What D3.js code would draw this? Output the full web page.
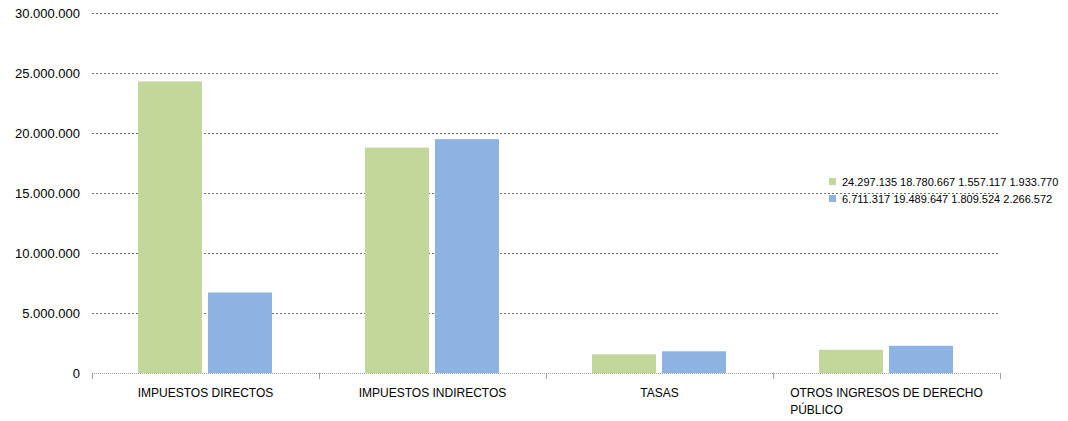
<!DOCTYPE html>
<html><head><meta charset="utf-8">
<script src="https://cdn.jsdelivr.net/npm/d3@7"></script>
<style>body{margin:0;background:#fff}svg{display:block;font-family:"Liberation Sans",Arial,sans-serif}</style>
</head><body><svg id="c" width="1068" height="421"></svg>
<script>
const categories = ["IMPUESTOS DIRECTOS","IMPUESTOS INDIRECTOS","TASAS","OTROS INGRESOS DE DERECHO PÚBLICO"];
const series1 = [24297135, 18780667, 1557117, 1933770];
const series2 = [6711317, 19489647, 1809524, 2266572];
const yTicks = [0, 5000000, 10000000, 15000000, 20000000, 25000000, 30000000];
const seriesNames = ["24.297.135 18.780.667 1.557.117 1.933.770","6.711.317 19.489.647 1.809.524 2.266.572"];
const colors = ["#C4D79B","#8DB3E2"];

(function(){
const svg = d3.select("#c");
const mLeft = 92, mRight = 1000, mTop = 13, mBottom = 373;
const fmt = v => v === 0 ? "0" : d3.format(",")(v).replace(/,/g, ".");
const y = d3.scaleLinear().domain([0, 30000000]).range([mBottom, mTop]);
const x = d3.scaleBand().domain(categories).range([mLeft, mRight]).paddingInner(0).paddingOuter(0);
const xs = d3.scaleBand().domain([0,1]).range([46, x.bandwidth()-47]).paddingInner(0.085);

svg.append("g").selectAll("line").data(yTicks.filter(d=>d>0)).join("line")
  .attr("x1", mLeft).attr("x2", mRight).attr("y1", d=>y(d)+0.5).attr("y2", d=>y(d)+0.5)
  .attr("stroke", "#6e6e6e").attr("stroke-dasharray", "2,2").attr("stroke-width", 1);

svg.append("g").selectAll("text").data(yTicks).join("text")
  .attr("x", 80).attr("y", d=>y(d)+4.5).attr("text-anchor","end")
  .attr("font-size", 13).attr("fill","#000").text(fmt);

const data = [series1, series2];
data.forEach((s, i) => {
  svg.append("g").selectAll("rect").data(s).join("rect")
    .attr("x", (d, j) => x(categories[j]) + xs(i))
    .attr("width", xs.bandwidth())
    .attr("y", d => y(d))
    .attr("height", d => y(0) - y(d))
    .attr("fill", colors[i]);
});

svg.append("line").attr("x1", mLeft).attr("x2", mRight).attr("y1", mBottom+0.5).attr("y2", mBottom+0.5)
  .attr("stroke", "#a0a0a0").attr("stroke-dasharray","1,1");
const bounds = categories.map(c => x(c)).concat([mRight]);
svg.append("g").selectAll("line").data(bounds).join("line")
  .attr("x1", d=>Math.round(d)+0.5).attr("x2", d=>Math.round(d)+0.5)
  .attr("y1", mBottom).attr("y2", mBottom+6).attr("stroke","#a0a0a0");

const lines = {"OTROS INGRESOS DE DERECHO PÚBLICO": ["OTROS INGRESOS DE DERECHO","PÚBLICO"]};
categories.forEach(c => {
  const cx = x(c) + x.bandwidth()/2;
  const ls = lines[c] || [c];
  const t = svg.append("text").attr("font-size", 12).attr("fill","#000");
  const first = t.append("tspan").attr("x", cx).attr("y", 397).attr("text-anchor","middle").text(ls[0]);
  if (ls.length > 1) {
    const w = first.node().getComputedTextLength();
    const x0 = cx - w/2;
    first.attr("text-anchor","start").attr("x", x0);
    t.append("tspan").attr("x", x0).attr("y", 414).text(ls[1]);
  }
});

seriesNames.forEach((n, i) => {
  const ly = 178 + i*17;
  svg.append("rect").attr("x", 829).attr("y", ly).attr("width", 7).attr("height", 7).attr("fill", colors[i]);
  svg.append("text").attr("x", 842).attr("y", ly+8).attr("font-size", 11).attr("fill","#000").text(n);
});
})();
</script></body></html>
